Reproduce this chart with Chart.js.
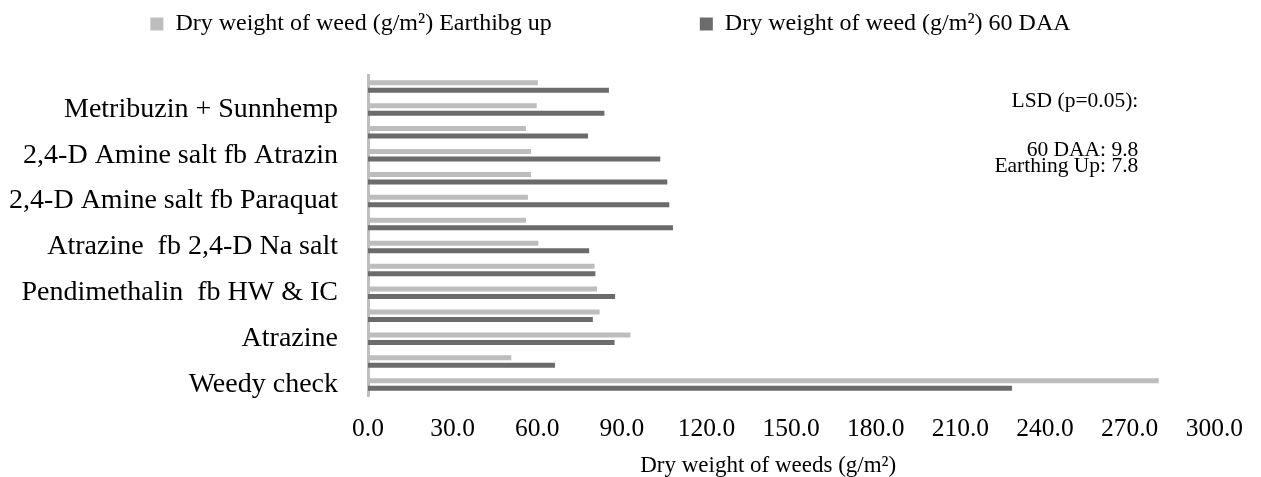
<!DOCTYPE html>
<html>
<head>
<meta charset="utf-8">
<title>Dry weight of weeds</title>
<script src="https://cdn.jsdelivr.net/npm/chart.js@4.4.0/dist/chart.umd.min.js"></script>
<style>
  html, body { margin: 0; padding: 0; background: #fff; }
  canvas { display: block; }
</style>
</head>
<body>
<canvas id="weedChart" width="1261" height="477"></canvas>
<script>
// categories top to bottom (only every other one is labelled in the figure)
var treatments = [
  "",
  "Metribuzin + Sunnhemp",
  "",
  "2,4-D Amine salt fb Atrazin",
  "",
  "2,4-D Amine salt fb Paraquat",
  "",
  "Atrazine  fb 2,4-D Na salt",
  "",
  "Pendimethalin  fb HW & IC",
  "",
  "Atrazine",
  "",
  "Weedy check",
];

// dry weight of weeds (g/m2), same order as treatments
var earthingUp = [60.2, 59.8, 56.0, 57.8, 57.8, 56.7, 56.0, 60.4, 80.3, 81.2, 82.1, 93.0, 50.8, 280.3];
var daa60 = [85.4, 83.8, 78.0, 103.6, 106.1, 106.8, 108.1, 78.4, 80.6, 87.6, 79.7, 87.4, 66.3, 228.3];

var seriesNames = ["Dry weight of weed (g/m\u00B2) Earthibg up", "Dry weight of weed (g/m\u00B2) 60 DAA"];
var lsdLines = ["LSD (p=0.05):", "", "", "60 DAA: 9.8", "Earthing Up: 7.8"];

var serif = "'Liberation Serif', 'Times New Roman', serif";

// legend sits higher than the plot, leave a gap under it
var legendGap = {
  id: "legendGap",
  beforeInit: function (chart) {
    var fit = chart.legend.fit;
    chart.legend.fit = function () {
      fit.call(this);
      this.height = 73;
    };
  },
};

// LSD note in the upper right of the plot
var lsdNote = {
  id: "lsdNote",
  afterDraw: function (chart) {
    var ctx = chart.ctx;
    var area = chart.chartArea;
    ctx.save();
    ctx.font = "21.5px " + serif;
    ctx.fillStyle = "#000";
    ctx.textAlign = "right";
    ctx.textBaseline = "alphabetic";
    lsdLines.forEach(function (line, i) {
      ctx.fillText(line, area.right - 76, area.top + 32 + i * 16.3);
    });
    ctx.restore();
  },
};

var ctx = document.getElementById("weedChart").getContext("2d");
var weedChart = new Chart(ctx, {
  type: "bar",
  data: {
    labels: treatments,
    datasets: [
      {
        label: seriesNames[0] + "\u2003\u2003\u2003\u2003\u2003\u2002 ",
        data: earthingUp,
        backgroundColor: "#bdbdbd",
      },
      {
        label: seriesNames[1],
        data: daa60,
        backgroundColor: "#6b6b6b",
      },
    ],
  },
  options: {
    indexAxis: "y",
    responsive: false,
    animation: false,
    categoryPercentage: 0.654,
    barPercentage: 0.667,
    layout: { padding: { top: 2, right: 40, bottom: 0, left: 0 } },
    plugins: {
      legend: {
        position: "top",
        labels: {
          boxWidth: 13,
          boxHeight: 13,
          padding: 10,
          color: "#000",
          font: { family: serif, size: 24 },
        },
      },
      tooltip: { enabled: false },
    },
    scales: {
      x: {
        min: 0,
        max: 300,
        grid: { display: false, drawTicks: false },
        border: { display: false },
        ticks: {
          stepSize: 30,
          padding: 18,
          color: "#000",
          font: { family: serif, size: 25.5 },
          callback: function (v) {
            return Number(v).toFixed(1);
          },
        },
        title: {
          display: true,
          text: "Dry weight of weeds (g/m\u00B2)\u2003\u2003",
          color: "#000",
          font: { family: serif, size: 23, lineHeight: 1 },
          padding: 0,
        },
        afterFit: function (scale) {
          scale.height = 81;
        },
      },
      y: {
        grid: { display: false, drawTicks: false },
        border: { display: true, color: "#bfbfbf", width: 3 },
        ticks: {
          autoSkip: false,
          padding: 30,
          color: "#000",
          font: { family: serif, size: 28 },
        },
        afterFit: function (scale) {
          scale.width = 368;
        },
      },
    },
  },
  plugins: [legendGap, lsdNote],
});
</script>
</body>
</html>
